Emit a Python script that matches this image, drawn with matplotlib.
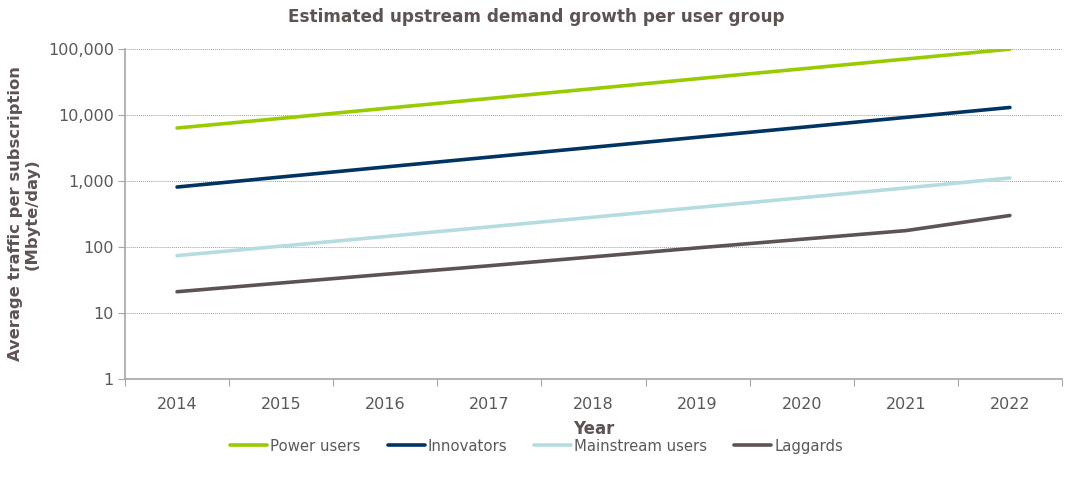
import matplotlib
matplotlib.use('Agg')
import matplotlib.pyplot as plt
from matplotlib.ticker import FixedLocator, NullLocator

# values (Mbyte/day, log scale)
years = ['2014', '2015', '2016', '2017', '2018', '2019', '2020', '2021', '2022']
power_users = [6350, 8900, 12600, 17800, 25100, 35500, 50000, 70500, 99500]
innovators = [810, 1150, 1630, 2300, 3250, 4600, 6500, 9200, 13000]
mainstream_users = [74, 103, 144, 202, 283, 397, 557, 785, 1110]
laggards = [21, 28.5, 38.6, 52, 71, 97, 131, 177, 300]

series = [('Power users', power_users, '#99cc00'),
          ('Innovators', innovators, '#003462'),
          ('Mainstream users', mainstream_users, '#b5dde0'),
          ('Laggards', laggards, '#5e5353')]

text_col = '#595959'
title_col = '#5e5353'

plt.rcParams['font.family'] = ['DejaVu Sans']

fig = plt.figure(figsize=(10.73, 4.88), dpi=100)
ax = fig.add_axes([0.1165, 0.2234, 0.8732, 0.6762])

x = list(range(len(years)))
for name, vals, col in series:
    ax.plot(x, vals, color=col, linewidth=2.6, label=name, solid_capstyle='round')

ax.set_yscale('log')
ax.set_ylim(1, 100000)
ax.set_xlim(-0.5, len(years) - 0.5)
ax.yaxis.set_major_locator(FixedLocator([1, 10, 100, 1000, 10000, 100000]))
ax.yaxis.set_minor_locator(NullLocator())
ax.set_yticklabels(['1', '10', '100', '1,000', '10,000', '100,000'])

# category axis: ticks between categories, labels centred
ax.set_xticks([i - 0.5 for i in range(len(years) + 1)])
ax.set_xticklabels([])
ax.set_xticks(x, minor=True)
ax.set_xticklabels(years, minor=True)
ax.tick_params(axis='x', which='minor', length=0, pad=13, labelsize=11.5, labelcolor=text_col)
ax.tick_params(axis='x', which='major', length=5, color='#a6a6a6', direction='out')
ax.tick_params(axis='y', length=5, color='#a6a6a6', labelsize=11.5, labelcolor=text_col, pad=3)

ax.grid(axis='y', which='major', linestyle=(0, (1, 1)), color='#a0a0a0', linewidth=0.7)
ax.set_axisbelow(True)
for s in ['top', 'right']:
    ax.spines[s].set_visible(False)
for s in ['left', 'bottom']:
    ax.spines[s].set_color('#a6a6a6')
    ax.spines[s].set_linewidth(1.2)

ax.set_xlabel('Year', fontsize=12, fontweight='bold', color=title_col, labelpad=6)
ax.set_ylabel('Average traffic per subscription\n(Mbyte/day)', fontsize=11.8,
              fontweight='bold', color=title_col, labelpad=6, linespacing=1.15)

fig.text(0.5, 0.965, 'Estimated upstream demand growth per user group', ha='center', va='center',
         fontsize=12.2, fontweight='bold', color=title_col)

leg = fig.legend(loc='center', bbox_to_anchor=(0.5, 0.086), ncol=4, frameon=False,
                 handlelength=2.5, handletextpad=0.2, columnspacing=1.8, fontsize=10.7)
for t in leg.get_texts():
    t.set_color(text_col)

fig.savefig('out.png', dpi=100)
